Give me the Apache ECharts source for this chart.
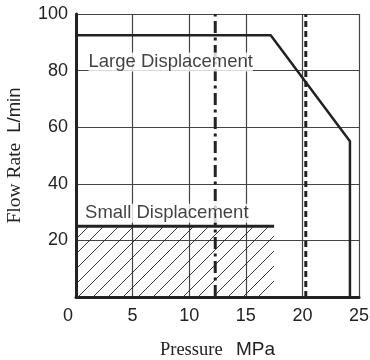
<!DOCTYPE html>
<html>
<head>
<meta charset="utf-8">
<script src="https://cdn.jsdelivr.net/npm/echarts@6/dist/echarts.min.js"></script>
<style>
html, body { margin: 0; padding: 0; background: #fff; }
#chart { width: 370px; height: 360px; }
</style>
</head>
<body>
<div id="chart"></div>
<script>
// values
var largePressure = [0, 17.2, 24.2, 24.2];
var largeFlow = [92.5, 92.5, 55, 0];
var smallPressure = [0, 17.5];
var smallFlow = [25, 25];
var dashDotPressure = 12.3;
var dashedPressure = 20.3;
var flowRange = [0, 100];
var labelNames = ['Large Displacement', 'Small Displacement'];
var labelPos = [[1.1, 83], [0.8, 29.6]];

function zip(xs, ys) {
    return xs.map(function (x, i) { return [x, ys[i]] })
}

// diagonal hatch tile
function hatchTile() {
    var c = document.createElement('canvas')
    c.width = 15
    c.height = 15
    var ctx = c.getContext('2d')
    ctx.strokeStyle = '#222'
    ctx.lineWidth = 0.9
    ctx.beginPath()
    ctx.moveTo(-2, 17)
    ctx.lineTo(17, -2)
    ctx.stroke()
    return c
}

var chart = echarts.init(document.getElementById('chart'))
var sans = 'Liberation Sans'
var serif = 'Liberation Serif'

chart.setOption({
    animation: false,
    grid: { left: 76, right: 11, top: 14, bottom: 63, containLabel: false, outerBoundsMode: 'none' },
    xAxis: {
        type: 'value',
        min: 0,
        max: 25,
        interval: 5,
        name: '{s|Pressure}    {a|MPa}',
        nameLocation: 'middle',
        nameGap: 42,
        nameTextStyle: {
            rich: {
                s: { fontFamily: serif, fontSize: 18.5, lineHeight: 22, color: '#222' },
                a: { fontFamily: sans, fontSize: 19, lineHeight: 22, color: '#222' }
            }
        },
        axisLine: { show: true, lineStyle: { color: '#222', width: 3 } },
        axisTick: { show: false },
        axisLabel: {
            margin: 10,
            fontFamily: sans,
            fontSize: 18,
            color: '#222',
            formatter: function (v) { return v === 0 ? '{z|0}' : v },
            rich: { z: { fontFamily: sans, fontSize: 18, color: '#222', padding: [0, 16, 0, 0] } }
        },
        splitLine: { show: true, lineStyle: { color: '#444', width: 1.2 } }
    },
    yAxis: {
        type: 'value',
        min: flowRange[0],
        max: flowRange[1],
        interval: 20,
        name: '{s|Flow Rate}   {a|L/min}',
        nameLocation: 'middle',
        nameGap: 50,
        nameTextStyle: {
            rich: {
                s: { fontFamily: serif, fontSize: 19.5, lineHeight: 22, color: '#222' },
                a: { fontFamily: sans, fontSize: 18.5, lineHeight: 22, color: '#222' }
            }
        },
        axisLine: { show: true, lineStyle: { color: '#222', width: 3 } },
        axisTick: { show: false },
        axisLabel: {
            margin: 8,
            fontFamily: sans,
            fontSize: 18,
            color: '#222',
            formatter: function (v) { return v === 0 ? '' : v }
        },
        splitLine: { show: true, lineStyle: { color: '#444', width: 1.2 } }
    },
    series: [{
        name: 'small area',
        type: 'line',
        data: zip(smallPressure, smallFlow),
        symbol: 'none',
        lineStyle: { color: '#222', width: 3 },
        areaStyle: { color: { image: hatchTile(), repeat: 'repeat' }, opacity: 1 },
        z: 3
    }, {
        name: 'large',
        type: 'line',
        data: zip(largePressure, largeFlow),
        symbol: 'none',
        lineStyle: { color: '#222', width: 2.5 },
        z: 4
    }, {
        name: 'dash dot',
        type: 'line',
        data: zip([dashDotPressure, dashDotPressure], flowRange),
        symbol: 'none',
        lineStyle: { color: '#222', width: 3, type: [12, 4.5, 3, 4.5] },
        z: 4
    }, {
        name: 'dashed',
        type: 'line',
        data: zip([dashedPressure, dashedPressure], flowRange),
        symbol: 'none',
        lineStyle: { color: '#222', width: 3, type: [6, 4] },
        z: 4
    }, {
        name: 'labels',
        type: 'scatter',
        symbolSize: 0,
        data: labelPos.map(function (p, i) { return { name: labelNames[i], value: p } }),
        label: {
            show: true,
            position: 'right',
            distance: 0,
            fontFamily: sans,
            fontSize: 18.5,
            color: '#111',
            backgroundColor: '#fff',
            padding: 0,
            formatter: '{b}'
        },
        z: 5
    }]
})
</script>
</body>
</html>
